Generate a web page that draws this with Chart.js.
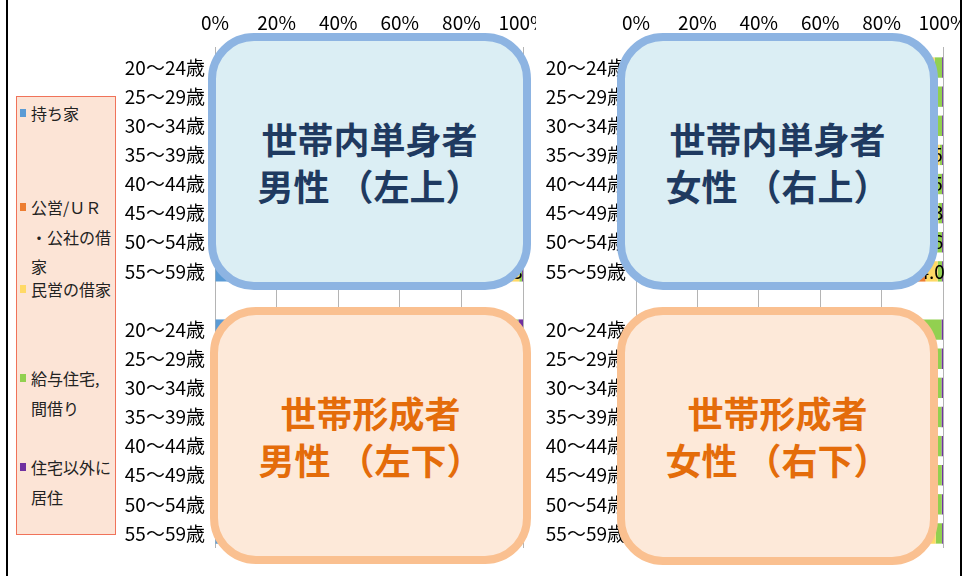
<!DOCTYPE html>
<html>
<head>
<meta charset="utf-8">
<script src="https://cdn.jsdelivr.net/npm/chart.js@4"></script>
<style>
html,body{margin:0;padding:0;background:#fff;width:964px;height:576px;overflow:hidden;font-family:"Noto Sans CJK JP","Noto Sans",sans-serif;}
#frame{position:absolute;left:6px;top:-2px;width:952px;height:600px;border-left:2px solid #000;border-right:2px solid #000;}
.cbox{position:absolute;top:0;height:576px;}
#legendBox{position:absolute;left:16px;top:96px;width:100px;height:439px;box-sizing:border-box;border:1px solid #f0735a;background:#fce4d6;}
.lg{position:absolute;font-size:16px;line-height:20px;color:#222;white-space:nowrap;}
.sq{position:absolute;width:6px;height:8px;}
.note{position:absolute;box-sizing:border-box;border-width:8px;border-style:solid;border-radius:46px;display:flex;align-items:center;justify-content:center;text-align:center;font-weight:bold;font-size:36px;line-height:47px;}
.blue{background:#dbeef4;border-color:#8db4e2;color:#1f3a60;}
.orange{background:#fde9d9;border-color:#fac090;color:#e46c0a;}
</style>
</head>
<body>
<div id="frame"></div>
<div class="cbox" style="left:118px;width:418px;"><canvas id="leftChart"></canvas></div>
<div class="cbox" style="left:538px;width:423px;"><canvas id="rightChart"></canvas></div>

<div id="legendBox"></div>
<div class="sq" style="left:20px;top:109px;background:#5b9bd5"></div>
<div class="lg" style="left:31px;top:103px">持ち家</div>
<div class="sq" style="left:20px;top:203px;background:#ed7d31"></div>
<div class="lg" style="left:31px;top:197px">公営/ＵＲ</div>
<div class="lg" style="left:31px;top:227px">・公社の借</div>
<div class="lg" style="left:31px;top:256px">家</div>
<div class="sq" style="left:20px;top:285px;background:#ffd966"></div>
<div class="lg" style="left:31px;top:279px">民営の借家</div>
<div class="sq" style="left:20px;top:374px;background:#92d050"></div>
<div class="lg" style="left:31px;top:368px">給与住宅,</div>
<div class="lg" style="left:31px;top:398px">間借り</div>
<div class="sq" style="left:20px;top:463px;background:#7030a0"></div>
<div class="lg" style="left:31px;top:457px">住宅以外に</div>
<div class="lg" style="left:31px;top:487px">居住</div>

<div class="note blue" style="left:208px;top:33px;width:323px;height:257px;"><div>世帯内単身者<br>男性 （左上）</div></div>
<div class="note blue" style="left:617px;top:33px;width:321px;height:257px;"><div>世帯内単身者<br>女性 （右上）</div></div>
<div class="note orange" style="left:210px;top:307px;width:321px;height:257px;"><div>世帯形成者<br>男性 （左下）</div></div>
<div class="note orange" style="left:617px;top:307px;width:321px;height:258px;"><div>世帯形成者<br>女性 （右下）</div></div>

<script>
// ---- data ----
const ages = ['20～24歳','25～29歳','30～34歳','35～39歳','40～44歳','45～49歳','50～54歳','55～59歳'];
const categories = ages.concat([''], ages);
const seriesNames = ['持ち家','公営/ＵＲ・公社の借家','民営の借家','給与住宅,間借り','住宅以外に居住'];
const seriesColors = ['#5b9bd5','#ed7d31','#ffd966','#92d050','#7030a0'];
const xTicks = [0,20,40,60,80,100];

// 世帯内単身者 男性 (左上)
const smOwned   = [86.5, 85.0, 84.2, 85.1, 86.0, 87.3, 88.2, 88.0];
const smPublic  = [ 4.0,  4.5,  5.0,  5.2,  5.0,  4.8,  4.6,  4.5];
const smPrivate = [ 7.0,  7.8,  8.0,  7.5,  7.0,  6.4,  5.8,  6.3];
const smCompany = [ 2.2,  2.4,  2.5,  1.9,  1.7,  1.2,  1.1,  0.9];
const smOther   = [ 0.3,  0.3,  0.3,  0.3,  0.3,  0.3,  0.3,  0.3];
// 世帯内単身者 女性 (右上)
const sfOwned   = [84.0, 82.0, 84.5, 87.5, 88.3, 88.8, 89.5, 90.3];
const sfPublic  = [ 3.5,  4.0,  4.2,  4.9,  4.6,  4.4,  4.0,  4.0];
const sfPrivate = [ 9.8, 11.2,  9.6,  6.5,  5.5,  5.3,  4.6,  4.0];
const sfCompany = [ 2.4,  2.5,  1.4,  0.8,  1.3,  1.2,  1.6,  1.4];
const sfOther   = [ 0.3,  0.3,  0.3,  0.3,  0.3,  0.3,  0.3,  0.3];
// 世帯形成者 男性 (左下)
const hmOwned   = [ 4.5, 14.0, 35.0, 52.0, 62.0, 68.0, 72.0, 75.0];
const hmPublic  = [ 2.0,  3.5,  5.0,  5.5,  6.0,  6.5,  7.0,  7.5];
const hmPrivate = [70.0, 62.0, 45.0, 31.0, 23.0, 19.0, 16.0, 14.0];
const hmCompany = [22.0, 19.5, 14.0, 10.8,  8.4,  5.9,  4.5,  3.1];
const hmOther   = [ 1.5,  1.0,  1.0,  0.7,  0.6,  0.6,  0.5,  0.4];
// 世帯形成者 女性 (右下)
const hfOwned   = [ 3.0, 10.0, 25.0, 35.0, 42.0, 48.0, 52.0, 56.0];
const hfPublic  = [ 2.5,  3.5,  6.0,  8.0,  9.5, 10.5, 11.0, 11.5];
const hfPrivate = [80.0, 73.5, 59.5, 50.0, 43.7, 37.6, 34.2, 30.1];
const hfCompany = [14.0, 12.5,  9.0,  6.5,  4.3,  3.5,  2.4,  2.1];
const hfOther   = [ 0.5,  0.5,  0.5,  0.5,  0.5,  0.4,  0.4,  0.3];

const leftTop = [smOwned, smPublic, smPrivate, smCompany, smOther];
const leftBottom = [hmOwned, hmPublic, hmPrivate, hmCompany, hmOther];
const rightTop = [sfOwned, sfPublic, sfPrivate, sfCompany, sfOther];
const rightBottom = [hfOwned, hfPublic, hfPrivate, hfCompany, hfOther];

const FONT = '"Noto Sans CJK JP", "Noto Sans", sans-serif';

const valueLabels = {
  id: 'valueLabels',
  afterDatasetsDraw(chart) {
    const ctx = chart.ctx;
    const ds = chart.data.datasets[2];
    const meta = chart.getDatasetMeta(2);
    ctx.save();
    ctx.font = '19px ' + FONT;
    ctx.fillStyle = '#000';
    ctx.textAlign = 'center';
    ctx.textBaseline = 'middle';
    meta.data.forEach((el, i) => {
      const v = ds.data[i];
      if (v == null) return;
      ctx.fillText(v.toFixed(1), (el.x + el.base) / 2, el.y);
    });
    ctx.restore();
  }
};

function makeChart(id, top, bottom, yWidth, padRight) {
  new Chart(document.getElementById(id), {
    type: 'bar',
    data: {
      labels: categories,
      datasets: seriesNames.map((n, i) => ({
        label: n,
        data: top[i].concat([null], bottom[i]),
        backgroundColor: seriesColors[i],
        borderWidth: 0,
        categoryPercentage: 1,
        barPercentage: 0.7
      }))
    },
    options: {
      indexAxis: 'y',
      responsive: true,
      maintainAspectRatio: false,
      animation: false,
      layout: { padding: { top: 0, right: padRight, bottom: 28, left: 0 } },
      plugins: { legend: { display: false }, tooltip: { enabled: false } },
      scales: {
        x: {
          position: 'top',
          stacked: true,
          min: 0, max: 100,
          afterBuildTicks(s) { s.ticks = xTicks.map(v => ({ value: v })); },
          ticks: { callback: v => v + '%', font: { size: 19, family: FONT }, color: '#000', padding: 13, maxRotation: 0, autoSkip: false },
          grid: { color: '#b4b4b4', lineWidth: 1, tickLength: 6, drawTicks: true },
          border: { display: false },
          afterFit(s) { s.height = 53; s.paddingLeft = 0; s.paddingRight = 0; }
        },
        y: {
          stacked: true,
          grid: { display: false, drawTicks: false },
          border: { display: false },
          ticks: { font: { size: 19, family: FONT }, color: '#000', padding: 10, autoSkip: false },
          afterFit(s) { s.width = yWidth; }
        }
      }
    },
    plugins: [valueLabels]
  });
}

makeChart('leftChart', leftTop, leftBottom, 97, 13);
makeChart('rightChart', rightTop, rightBottom, 98, 18);
</script>
</body>
</html>
